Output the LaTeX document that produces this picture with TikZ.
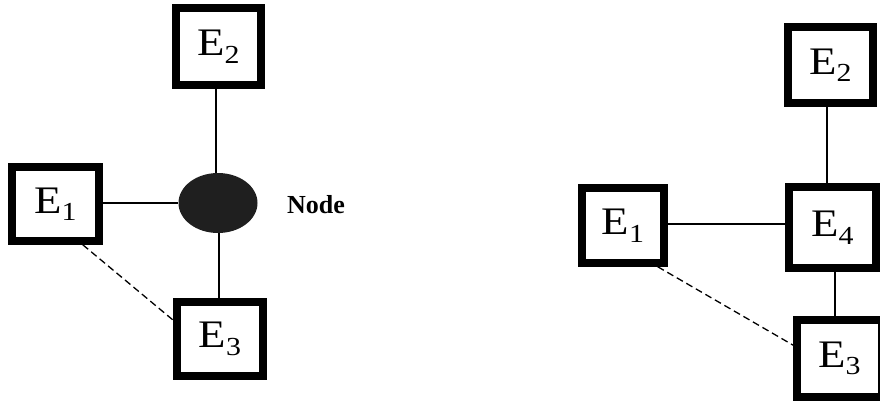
\documentclass[tikz,border=0pt]{standalone}
\usepackage{fontspec}
\setmainfont{Liberation Serif}
\usetikzlibrary{shapes.geometric}

% entity label: a capital E with a lowered index digit
\newcommand{\entlabel}[1]{\scalebox{1.15}[1]{\fontsize{39}{39}\selectfont E\raisebox{-7.5pt}{\fontsize{26}{26}\selectfont #1}}}

\tikzset{
  entity/.style={draw=black, line width=7.5pt, fill=white, inner sep=0pt},
  junction/.style={ellipse, fill=black!88, draw=none, inner sep=0pt,
                   minimum width=79pt, minimum height=60pt},
  link/.style={line width=1.3pt},
  weaklink/.style={line width=1.3pt, dash pattern=on 7pt off 4pt},
  caption/.style={font=\fontsize{26}{26}\selectfont\bfseries, inner sep=0pt, anchor=base west}
}

\begin{document}
\begin{tikzpicture}[x=1pt, y=-1pt]
  \path[use as bounding box] (0,0) rectangle (880,400);
  \fill[white] (0,0) rectangle (880,400);
  \clip (0,0) rectangle (880,400);

  % ---- left: three entities meeting at a node ----
  \node[entity, minimum width=85pt, minimum height=77pt] (LE2) at (218.5,46.5) {\entlabel{2}};
  \node[entity, minimum width=87pt, minimum height=74pt] (LE1) at (55.5,204) {\entlabel{1}};
  \node[entity, minimum width=86pt, minimum height=74pt] (LE3) at (220,339) {\entlabel{3}};
  \node[junction] (N) at (218,203) {};
  \node[caption] (NL) at (287,213) {Node};

  \draw[link] ([xshift=-2pt]N.north |- LE2.south) -- ([xshift=-2pt]N.north);
  \draw[link] (LE1.east |- N.west) -- (N.west);
  \draw[link] ([xshift=1pt]N.south) -- ([xshift=1pt]N.south |- LE3.north);
  \draw[weaklink] ([xshift=-20pt]LE1.south east) -- ([yshift=-22pt]LE3.north west);

  % ---- right: the node replaced by entity E4 ----
  \node[entity, minimum width=85pt, minimum height=76pt] (RE2) at (830.5,65) {\entlabel{2}};
  \node[entity, minimum width=82pt, minimum height=75pt] (RE1) at (623,225.5) {\entlabel{1}};
  \node[entity, minimum width=87pt, minimum height=81pt] (RE4) at (832.5,227.5) {\entlabel{4}};
  \node[entity, minimum width=85pt, minimum height=77pt] (RE3) at (839.5,358.5) {\entlabel{3}};

  \draw[link] ([xshift=-3.5pt]RE2.south) -- ([xshift=-3.5pt]RE2.south |- RE4.north);
  \draw[link] ([yshift=1.5pt]RE1.east) -- ([yshift=1.5pt]RE1.east -| RE4.west);
  \draw[link] ([xshift=2.5pt]RE4.south) -- ([xshift=2.5pt]RE4.south |- RE3.north);
  \draw[weaklink] ([xshift=-10pt]RE1.south east) -- ([yshift=-29pt]RE3.north west);
\end{tikzpicture}
\end{document}
